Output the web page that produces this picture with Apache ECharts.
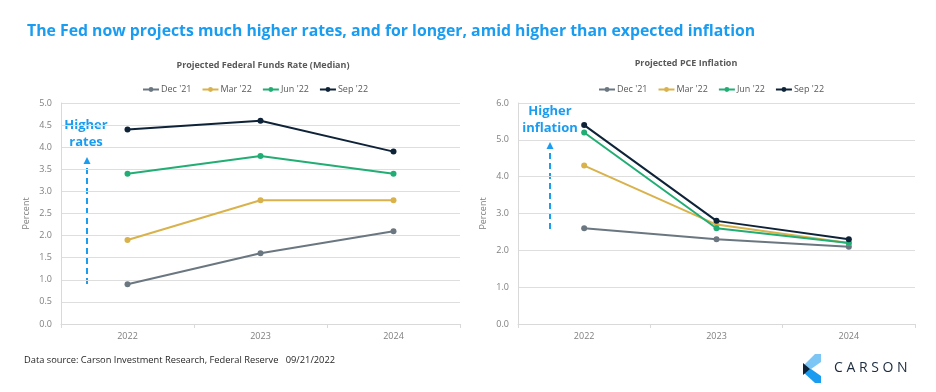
<!DOCTYPE html>
<html>
<head>
<meta charset="utf-8">
<script src="https://cdn.jsdelivr.net/npm/echarts@6/dist/echarts.min.js"></script>
<style>html,body{margin:0;padding:0;background:#fff}#c{width:936px;height:392px}</style>
</head>
<body>
<div id="c"></div>
<script>
const categories = ['2022', '2023', '2024'];
const seriesNames = ["Dec '21", "Mar '22", "Jun '22", "Sep '22"];
const ffrDec21 = [0.9, 1.6, 2.1];
const ffrMar22 = [1.9, 2.8, 2.8];
const ffrJun22 = [3.4, 3.8, 3.4];
const ffrSep22 = [4.4, 4.6, 3.9];
const pceDec21 = [2.6, 2.3, 2.1];
const pceMar22 = [4.3, 2.7, 2.2];
const pceJun22 = [5.2, 2.6, 2.2];
const pceSep22 = [5.4, 2.8, 2.3];
const colors = ['#6b7780', '#d9b24c', '#22ad74', '#0e2238'];

const FONT = '"Open Sans", "Noto Sans", sans-serif';
const chart = echarts.init(document.getElementById('c'), null, {renderer: 'canvas'});

function mkSeries(data, idx, axis) {
  return {
    name: seriesNames[idx], type: 'line', data: data,
    xAxisIndex: axis, yAxisIndex: axis,
    symbol: 'circle', symbolSize: 6,
    lineStyle: {width: 2, color: colors[idx]},
    itemStyle: {color: colors[idx]},
    emphasis: {disabled: true}, animation: false
  };
}
const axisLabel = {color: '#7f7f7f', fontSize: 9, fontFamily: FONT};
function yAx(grid, max, interval) {
  return {
    type: 'value', gridIndex: grid, min: 0, max: max, interval: interval,
    name: 'Percent', nameLocation: 'middle', nameGap: 30, nameRotate: 90,
    nameTextStyle: {color: '#7f7f7f', fontSize: 9, fontFamily: FONT},
    axisLine: {show: true, lineStyle: {color: '#d9d9d9'}},
    axisTick: {show: false},
    axisLabel: Object.assign({formatter: v => v.toFixed(1), margin: 9}, axisLabel),
    splitLine: {lineStyle: {color: '#dedede', width: 1}}
  };
}
function xAx(grid) {
  return {
    type: 'category', gridIndex: grid, data: categories, boundaryGap: true,
    axisLine: {lineStyle: {color: '#d9d9d9'}},
    axisTick: {show: true, alignWithLabel: false, length: 4, lineStyle: {color: '#d9d9d9'}},
    axisLabel: Object.assign({margin: 8}, axisLabel)
  };
}
const legendCommon = {
  top: 80, itemWidth: 16, itemHeight: 6, itemGap: 10,
  textStyle: {color: '#595959', fontSize: 9, fontFamily: FONT, padding: [0, 0, 0, -3]},
  data: seriesNames, selectedMode: false
};

const arrowColor = '#1a9cf0';
function arrow(x, y1, y2) {
  return [
    {type: 'line', shape: {x1: x, y1: y1, x2: x, y2: y2 + 5}, style: {stroke: arrowColor, lineWidth: 2, lineDash: [6, 4]}},
    {type: 'polygon', shape: {points: [[x, y2 - 1], [x - 3.5, y2 + 6], [x + 3.5, y2 + 6]]}, style: {fill: arrowColor}}
  ];
}

const option = {
  backgroundColor: '#fff',
  animation: false,
  color: colors,
  title: [
    {text: 'The Fed now projects much higher rates, and for longer, amid higher than expected inflation', left: 22, top: 18,
      textStyle: {color: '#1a9cf0', fontSize: 15.8, fontWeight: 'bold', fontFamily: FONT}},
    {text: 'Projected Federal Funds Rate (Median)', left: 258, top: 56, textAlign: 'center',
      textStyle: {color: '#595959', fontSize: 9, fontWeight: 'bold', fontFamily: FONT}},
    {text: 'Projected PCE Inflation', left: 681, top: 54, textAlign: 'center',
      textStyle: {color: '#595959', fontSize: 9, fontWeight: 'bold', fontFamily: FONT}}
  ],
  legend: [
    Object.assign({left: 137}, legendCommon),
    Object.assign({left: 593}, legendCommon)
  ],
  grid: [
    {left: 61, right: 476, top: 103, bottom: 68},
    {left: 518, right: 21, top: 103, bottom: 68}
  ],
  xAxis: [xAx(0), xAx(1)],
  yAxis: [yAx(0, 5, 0.5), yAx(1, 6, 1)],
  series: [
    mkSeries(ffrDec21, 0, 0), mkSeries(ffrMar22, 1, 0), mkSeries(ffrJun22, 2, 0), mkSeries(ffrSep22, 3, 0),
    mkSeries(pceDec21, 0, 1), mkSeries(pceMar22, 1, 1), mkSeries(pceJun22, 2, 1), mkSeries(pceSep22, 3, 1)
  ],
  graphic: [
    {type: 'text', style: {x: 86, y: 117, text: 'Higher\nrates', fill: arrowColor, font: 'bold 13px ' + FONT, textAlign: 'center', lineHeight: 17}},
    {type: 'text', style: {x: 550, y: 103, text: 'Higher\ninflation', fill: arrowColor, font: 'bold 13px ' + FONT, textAlign: 'center', lineHeight: 17}},
    ...arrow(87, 284, 158),
    ...arrow(550, 229, 143),
    {type: 'text', left: 24, top: 356, style: {text: 'Data source: Carson Investment Research, Federal Reserve   09/21/2022', fill: '#262626', font: '9.3px ' + FONT}},
    {type: 'polygon', shape: {points: [[815, 354], [821, 354], [821, 362], [811, 369], [803, 369], [803, 366]]}, style: {fill: '#7cc6f5'}},
    {type: 'polygon', shape: {points: [[803, 369], [811, 369], [821, 376], [821, 383], [815, 383], [803, 372]]}, style: {fill: '#1a9cf0'}},
    {type: 'polygon', shape: {points: [[803, 363], [810, 369], [803, 375]]}, style: {fill: '#0e2238'}},
    {type: 'text', left: 834, top: 361, style: {text: 'C A R S O N', fill: '#1b2a3c', font: '500 14px ' + FONT}}
  ]
};
chart.setOption(option);
</script>
</body>
</html>
